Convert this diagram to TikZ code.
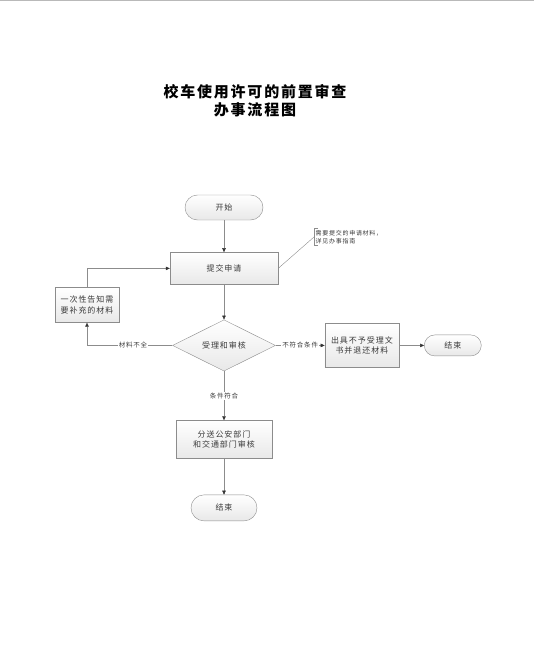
\documentclass[tikz,border=0pt]{standalone}
\usepackage{fontspec}
\setmainfont{Noto Sans CJK SC}[LetterSpace=12]
\usetikzlibrary{arrows.meta, positioning, shapes.geometric}
\definecolor{linegray}{HTML}{8C8C8C}
\definecolor{txtgray}{HTML}{3A3A3A}

\begin{document}
\begin{tikzpicture}[
  x=1pt, y=-1pt,
  font=\fontsize{8}{10.5}\selectfont, text=txtgray,
  box/.style      = {draw=linegray, rectangle, top color=white, bottom color=gray!18, align=center, inner sep=2pt},
  term/.style     = {draw=linegray, rectangle, top color=white, bottom color=gray!18},
  decision/.style = {draw=linegray, diamond, top color=white, bottom color=gray!18, inner sep=0pt,
                     minimum width=103pt, minimum height=44pt},
  flow/.style     = {draw=linegray, -{Triangle[length=4pt, width=3.5pt, color=black!80]}},
  lbl/.style      = {font=\fontsize{6.5}{8}\selectfont, fill=white, inner sep=1pt},
]
  \useasboundingbox (0,0) rectangle (534,666);
  \draw[gray!55, line width=1.5pt] (0,0.75) -- (534,0.75);

  % title
  \node[font=\fontsize{15}{17.5}\selectfont\bfseries, text=black, align=center] (title) at (255,101)
    {校车使用许可的前置审查\\办事流程图};

  % main column
  \node[term, minimum width=78pt, minimum height=25pt, rounded corners=12.5pt] (start) at (224,207.5) {开始};
  \node[box, below=32pt of start, minimum width=108pt, minimum height=32pt] (submit)   {提交申请};
  \node[decision, below=35pt of submit]                                      (check)    {受理和审核};
  \node[box, below=49pt of check, minimum width=96pt, minimum height=38pt]   (dispatch) {分送公安部门\\和交通部门审核};
  \node[term, below=36pt of dispatch, minimum width=66pt, minimum height=26pt, rounded corners=13pt] (end1) {结束};

  % side branches
  \node[box, right=49pt of check, minimum width=74pt, minimum height=44pt]   (refuse)   {出具不予受理文\\书并退还材料};
  \node[term, right=25pt of refuse, minimum width=57pt, minimum height=21pt, rounded corners=10.5pt] (end2) {结束};
  \node[box, minimum width=64pt, minimum height=35pt] (notify) at (87,305)   {一次性告知需\\要补充的材料};

  % note
  \node[anchor=west, align=left, inner sep=1.5pt, font=\fontsize{6}{8}\selectfont] (note) at (314,237)
    {需要提交的申请材料，\\详见办事指南};
  \draw[linegray] ([xshift=4pt]note.north west) -- (note.north west) -- (note.south west) -- ([xshift=4pt]note.south west);
  \draw[linegray] (submit.east) -- (note.west);

  \draw[flow] (start)    -- (submit);
  \draw[flow] (submit)   -- (check);
  \draw[flow] (check)    -- node[lbl]{条件符合}   (dispatch);
  \draw[flow] (check)    -- node[lbl]{不符合条件} (refuse);
  \draw[flow] (check.west) -| node[lbl, pos=0.23]{材料不全} (notify.south);
  \draw[flow] (notify.north) |- (submit.west);
  \draw[flow] (refuse)   -- (end2);
  \draw[flow] (dispatch) -- (end1);
\end{tikzpicture}
\end{document}
